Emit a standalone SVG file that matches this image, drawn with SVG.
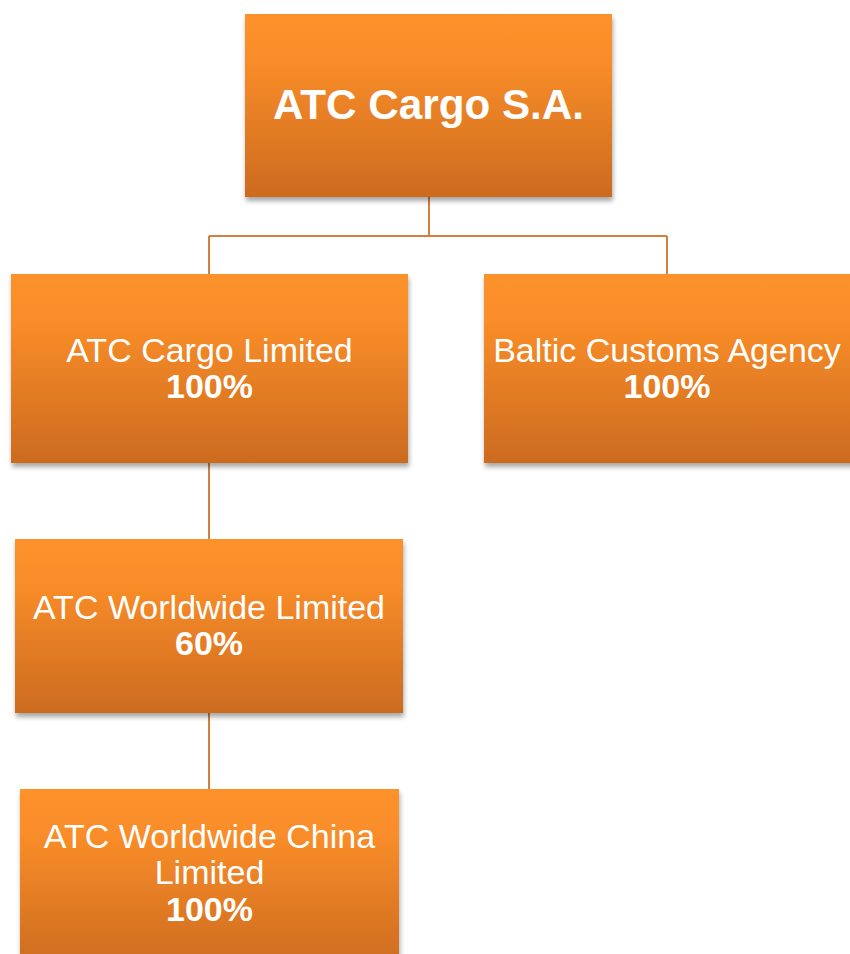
<svg xmlns="http://www.w3.org/2000/svg" width="850" height="954" viewBox="0 0 850 954">
<defs>
<linearGradient id="og" x1="0" y1="0" x2="0" y2="1">
<stop offset="0" stop-color="#fd912a"/>
<stop offset="0.25" stop-color="#f98d29"/>
<stop offset="1" stop-color="#cc6b1f"/>
</linearGradient>
<filter id="sh" x="-10%" y="-10%" width="125%" height="130%">
<feGaussianBlur in="SourceAlpha" stdDeviation="2.5"/>
<feOffset dx="1" dy="4" result="b"/>
<feComponentTransfer><feFuncA type="linear" slope="0.35"/></feComponentTransfer>
<feMerge><feMergeNode/><feMergeNode in="SourceGraphic"/></feMerge>
</filter>
</defs>
<style>
.box{fill:url(#og);filter:url(#sh)}
.t{font-family:"Liberation Sans",Arial,sans-serif;fill:#ffffff;text-anchor:middle;font-size:34px}
.b{font-weight:bold}
.c{fill:none;stroke:#d3803f;stroke-width:2}
</style>
<rect width="850" height="954" fill="#ffffff"/>
<g id="connectors">
<path class="c" d="M429 197V236M209 236H667M209 236V274M667 236V274"/>
<path class="c" d="M209 463V539"/>
<path class="c" d="M209 713V789"/>
</g>
<g id="n1">
<rect class="box" x="245" y="14" width="367" height="183"/>
<text class="t b" x="428.5" y="119" style="font-size:42.2px">ATC Cargo S.A.</text>
</g>
<g id="n2">
<rect class="box" x="11" y="274" width="397" height="189"/>
<text class="t" x="209.5" y="362">ATC Cargo Limited</text>
<text class="t b" x="209.5" y="398">100%</text>
</g>
<g id="n3">
<rect class="box" x="484" y="274" width="380" height="189"/>
<text class="t" x="667" y="362">Baltic Customs Agency</text>
<text class="t b" x="667" y="398">100%</text>
</g>
<g id="n4">
<rect class="box" x="15" y="539" width="388" height="174"/>
<text class="t" x="209" y="619">ATC Worldwide Limited</text>
<text class="t b" x="209" y="655">60%</text>
</g>
<g id="n5">
<rect class="box" x="20" y="789" width="379" height="180"/>
<text class="t" x="209.5" y="848">ATC Worldwide China</text>
<text class="t" x="209.5" y="884">Limited</text>
<text class="t b" x="209.5" y="921">100%</text>
</g>
</svg>
